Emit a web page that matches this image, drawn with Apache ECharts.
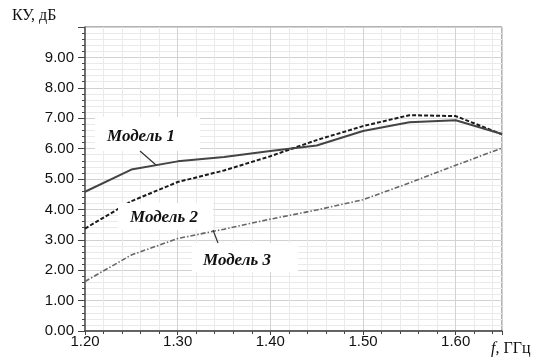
<!DOCTYPE html>
<html><head><meta charset="utf-8">
<script src="https://cdn.jsdelivr.net/npm/echarts@6/dist/echarts.min.js"></script>
<style>html,body{margin:0;padding:0;background:#fff}#c{width:540px;height:364px}</style>
</head><body><div id="c"></div>
<script>
// Frequency, GHz
const freq = [1.20, 1.25, 1.30, 1.35, 1.40, 1.45, 1.50, 1.55, 1.60, 1.65];
// Gain, dB
const model1 = [4.58, 5.31, 5.58, 5.72, 5.92, 6.10, 6.58, 6.87, 6.93, 6.48];
const model2 = [3.37, 4.27, 4.90, 5.28, 5.75, 6.28, 6.74, 7.10, 7.07, 6.47];
const model3 = [1.63, 2.50, 3.04, 3.35, 3.68, 3.98, 4.32, 4.87, 5.45, 6.02];
const seriesNames = ['Модель 1', 'Модель 2', 'Модель 3'];
const yAxisTitle = 'КУ, дБ';
const xAxisTitle = ['f', ', ГГц'];

const pair = arr => freq.map((f, i) => [f, arr[i]]);
const sans = '"Liberation Sans", Arial, sans-serif';
const serif = '"Liberation Serif", "Times New Roman", serif';
const labelFont = 'italic bold 17px ' + serif;

const chart = echarts.init(document.getElementById('c'), null, {renderer: 'canvas'});
chart.setOption({
  animation: false,
  backgroundColor: '#fff',
  grid: {left: 85, right: 38, top: 27, bottom: 33, show: true, borderColor: '#666', borderWidth: 1},
  xAxis: {
    type: 'value', min: 1.2, max: 1.65, interval: 0.1,
    axisLine: {lineStyle: {color: '#444', width: 1.5}},
    axisTick: {show: true, length: 4, lineStyle: {color: '#444'}},
    minorTick: {show: true, splitNumber: 5, length: 3, lineStyle: {color: '#444'}},
    splitLine: {show: true, lineStyle: {color: '#d2d2d2', width: 1}},
    minorSplitLine: {show: true, lineStyle: {color: '#eaeaea', width: 1}},
    axisLabel: {formatter: v => v.toFixed(2), fontFamily: sans, fontSize: 15, color: '#111', margin: 3, showMaxLabel: false}
  },
  yAxis: {
    type: 'value', min: 0, max: 10, interval: 1,
    axisLine: {show: true, lineStyle: {color: '#555', width: 1.5}},
    axisTick: {show: true, length: 7, lineStyle: {color: '#444'}},
    minorTick: {show: true, splitNumber: 5, length: 3, lineStyle: {color: '#444'}},
    splitLine: {show: true, lineStyle: {color: '#d2d2d2', width: 1}},
    minorSplitLine: {show: true, lineStyle: {color: '#eaeaea', width: 1}},
    axisLabel: {formatter: v => v.toFixed(2), fontFamily: sans, fontSize: 15, color: '#111', margin: 11, showMaxLabel: false}
  },
  series: [
    {name: seriesNames[0], type: 'line', data: pair(model1), showSymbol: false, z: 5,
     lineStyle: {color: '#444', width: 2, type: 'solid'}},
    {name: seriesNames[1], type: 'line', data: pair(model2), showSymbol: false, z: 4,
     lineStyle: {color: '#1a1a1a', width: 2, type: [4, 2]}},
    {name: seriesNames[2], type: 'line', data: pair(model3), showSymbol: false, z: 3,
     lineStyle: {color: '#666', width: 1.6, type: [5, 2, 1.5, 2]}}
  ],
  graphic: [
    {type: 'rect', z: 100, shape: {x: 95, y: 117, width: 105, height: 34}, style: {fill: '#fff'}},
    {type: 'text', z: 101, x: 107, y: 137, style: {text: seriesNames[0], font: labelFont, fill: '#111', verticalAlign: 'middle'}},
    {type: 'line', z: 101, shape: {x1: 140, y1: 151, x2: 156, y2: 165}, style: {stroke: '#333', lineWidth: 1.2}},
    {type: 'rect', z: 100, shape: {x: 118, y: 203, width: 95, height: 27}, style: {fill: '#fff'}},
    {type: 'text', z: 101, x: 130, y: 218, style: {text: seriesNames[1], font: labelFont, fill: '#111', verticalAlign: 'middle'}},
    {type: 'rect', z: 100, shape: {x: 192, y: 243, width: 106, height: 29}, style: {fill: '#fff'}},
    {type: 'text', z: 101, x: 203, y: 261, style: {text: seriesNames[2], font: labelFont, fill: '#111', verticalAlign: 'middle'}},
    {type: 'line', z: 101, shape: {x1: 213, y1: 230, x2: 218, y2: 243}, style: {stroke: '#333', lineWidth: 1.2}},
    {type: 'text', z: 101, x: 12, y: 16, style: {text: yAxisTitle, font: '16px ' + serif, fill: '#111', verticalAlign: 'middle'}},
    {type: 'text', z: 101, x: 491, y: 349, style: {
      text: '{i|' + xAxisTitle[0] + '}{n|' + xAxisTitle[1] + '}', verticalAlign: 'middle',
      rich: {i: {font: 'italic 16px ' + serif, fill: '#111'}, n: {font: '16px ' + serif, fill: '#111'}}}}
  ]
});
</script></body></html>
